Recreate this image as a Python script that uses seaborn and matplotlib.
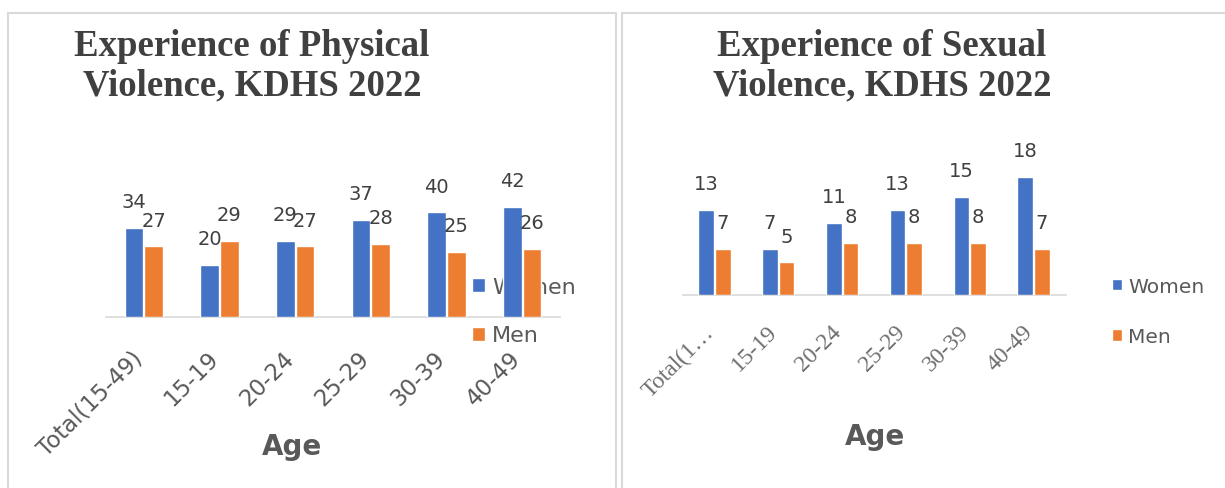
import matplotlib
matplotlib.use("Agg")
import matplotlib.pyplot as plt
import seaborn as sns
import pandas as pd
from matplotlib.patches import Rectangle

ages = ["Total(15-49)", "15-19", "20-24", "25-29", "30-39", "40-49"]
ages_short = ["Total(1…", "15-19", "20-24", "25-29", "30-39", "40-49"]
physical_women = [34, 20, 29, 37, 40, 42]
physical_men = [27, 29, 27, 28, 25, 26]
sexual_women = [13, 7, 11, 13, 15, 18]
sexual_men = [7, 5, 8, 8, 8, 7]

BLUE = "#4472C4"
ORANGE = "#ED7D31"
GREY = "#595959"
DARK = "#404040"


def long_df(women, men):
    return pd.DataFrame({
        "Age": ages * 2,
        "Sex": ["Women"] * len(ages) + ["Men"] * len(ages),
        "Value": women + men,
    })


sns.set_style("white")
plt.rcParams["font.family"] = ["DejaVu Sans"]

W, H = 1225, 489
fig = plt.figure(figsize=(W / 100, H / 100), dpi=100)

# panel frames
fig.patches.append(Rectangle((8 / W, -0.1), (616 - 8) / W, 1.1 - 14 / H,
                             transform=fig.transFigure, fill=False,
                             edgecolor="#D9D9D9", lw=1.5))
fig.patches.append(Rectangle((622 / W, -0.1), 0.6, 1.1 - 14 / H,
                             transform=fig.transFigure, fill=False,
                             edgecolor="#D9D9D9", lw=1.5))


def draw(ax, women, men, ticklabels, ymax, tick_kw, tick_pad, leg_xy, leg_fs, leg_space, hsize):
    df = long_df(women, men)
    sns.barplot(data=df, x="Age", y="Value", hue="Sex", order=ages,
                palette=[BLUE, ORANGE], saturation=1, width=0.52, gap=0.06,
                ax=ax, zorder=3)
    ax.set_ylim(0, ymax)
    ax.set_xlim(-0.5, len(ages) - 0.5)
    for c in ax.containers:
        ax.bar_label(c, fmt="%d", padding=12, fontsize=14, color=DARK)
    ax.set_xticks(range(len(ages)))
    ax.set_xticklabels(ticklabels, rotation=45, ha="right", va="baseline",
                       rotation_mode="anchor", **tick_kw)
    ax.tick_params(axis="x", length=0, pad=tick_pad)
    ax.set_yticks([])
    ax.set_xlabel("")
    ax.set_ylabel("")
    for s in ["left", "right", "top"]:
        ax.spines[s].set_visible(False)
    ax.spines["bottom"].set_color("#D9D9D9")
    ax.spines["bottom"].set_linewidth(1.2)
    ax.patch.set_alpha(0)
    handles, labels = ax.get_legend_handles_labels()
    leg = ax.legend(handles, labels, loc="center left",
                    bbox_to_anchor=(leg_xy[0] / W, 1 - leg_xy[1] / H),
                    bbox_transform=fig.transFigure, frameon=False,
                    fontsize=leg_fs, labelcolor=GREY, borderpad=0,
                    borderaxespad=0,
                    handlelength=hsize, handleheight=hsize,
                    handletextpad=0.3, labelspacing=leg_space)
    leg.set_zorder(1)


ax1 = fig.add_axes([106 / W, 171 / H, 454 / W, 131 / H])
draw(ax1, physical_women, physical_men, ages, 50,
     dict(fontsize=16.5, color=GREY), 30,
     (472, 312), 16, 1.3, 0.6)
ax2 = fig.add_axes([682.5 / W, 193 / H, 383 / W, 131 / H])
draw(ax2, sexual_women, sexual_men, ages_short, 20,
     dict(fontsize=17, color="#6E6E6E", family="Liberation Serif"), 27,
     (1112, 312.5), 14.5, 1.55, 0.5)

title_kw = dict(ha="center", va="center", fontsize=26.5, fontweight="bold",
                family="Liberation Serif", color=DARK, linespacing=1.15)
fig.text(252 / W, 1 - 66 / H, "Experience of Physical\nViolence, KDHS 2022", **title_kw)
fig.text(882 / W, 1 - 66 / H, "Experience of Sexual\nViolence, KDHS 2022", **title_kw)

age_kw = dict(ha="center", va="center", fontsize=20, fontweight="bold", color=GREY)
fig.text(292 / W, 1 - 447 / H, "Age", **age_kw)
fig.text(875 / W, 1 - 437 / H, "Age", **age_kw)

fig.savefig("out.png", dpi=100, facecolor="white")
